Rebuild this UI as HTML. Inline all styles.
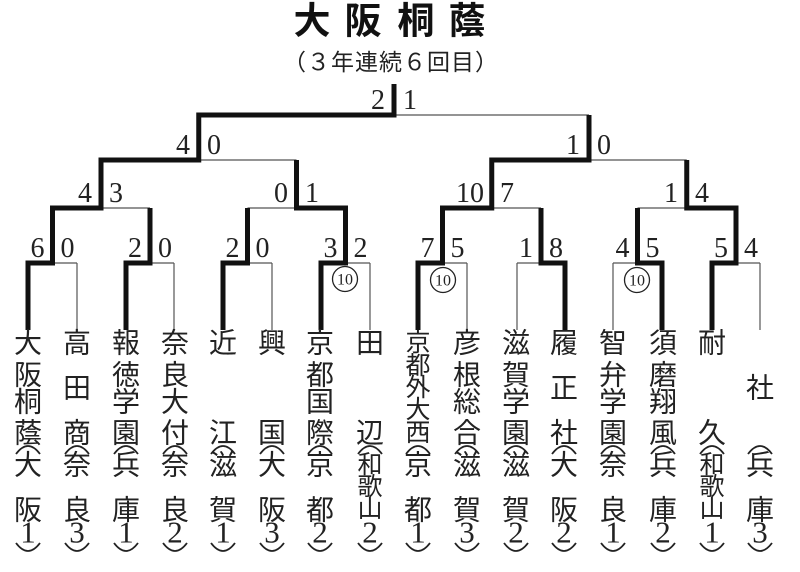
<!DOCTYPE html>
<html><head><meta charset="utf-8"><style>
html,body{margin:0;padding:0;background:#fff;}
svg{display:block;}
.k{font-family:"Liberation Sans","Noto Sans CJK JP",sans-serif;font-size:28px;fill:#222;text-anchor:middle;dominant-baseline:central;}
.k5{font-size:25px;}
.d{font-family:"Liberation Serif",serif;font-size:31px;fill:#222;text-anchor:middle;dominant-baseline:central;}
.s{font-family:"Liberation Serif",serif;font-size:28px;fill:#222;}
.l{text-anchor:end;}
.thin{stroke:#555;stroke-width:1.2;fill:none;}
.thick{stroke:#111;stroke-width:5;fill:none;stroke-linejoin:miter;}
.p{stroke:#222;stroke-width:1.8;fill:none;}
</style></head><body>
<svg width="800" height="572" viewBox="0 0 800 572" xmlns="http://www.w3.org/2000/svg">
<g font-family="'Liberation Sans','Noto Sans CJK JP',sans-serif" font-weight="bold" font-size="37" text-anchor="middle" dominant-baseline="central" fill="#111">
<text x="312" y="21">大</text><text x="363" y="21">阪</text><text x="416" y="21">桐</text><text x="467" y="21">蔭</text>
</g>
<text x="283" y="62" textLength="215" lengthAdjust="spacing" font-family="'Liberation Sans','Noto Sans CJK JP',sans-serif" font-size="23" dominant-baseline="central" fill="#222">（３年連続６回目）</text>

<g class="thin">
<path d="M28 263H77M126 263H174M223 263H272M321 263H370M418 263H467M517 263H565M613 263H662M712 263H760"/>
<path d="M77 263V330M174 263V330M272 263V330M370 263V330M467 263V330M517 263V330M613 263V330M760 263V330"/>
<path d="M52.5 208H150M247.5 208H345.5M442.5 208H541M637.5 208H736"/>
<path d="M101 160H296.5M491.75 160H686.75"/>
<path d="M198.75 115H589"/>
</g>
<g class="thick">
<polyline points="28,330 28,263 52.5,263 52.5,208 101,208 101,160 198.75,160 198.75,115 394,115 394,84"/>
<polyline points="126,330 126,263 150,263 150,208"/>
<polyline points="223,330 223,263 247.5,263 247.5,208"/>
<polyline points="321,330 321,263 345.5,263 345.5,208 296.5,208 296.5,160"/>
<polyline points="418,330 418,263 442.5,263 442.5,208 491.75,208 491.75,160 589,160 589,115"/>
<polyline points="565,330 565,263 541,263 541,208"/>
<polyline points="662,330 662,263 637.5,263 637.5,208"/>
<polyline points="712,330 712,263 736,263 736,208 686.75,208 686.75,160"/>
</g>

<g class="s">
<text class="l" x="44.5" y="257">6</text><text x="60.5" y="257">0</text>
<text class="l" x="142" y="257">2</text><text x="158" y="257">0</text>
<text class="l" x="239.5" y="257">2</text><text x="255.5" y="257">0</text>
<text class="l" x="337.5" y="257">3</text><text x="353.5" y="257">2</text>
<text class="l" x="434.5" y="257">7</text><text x="450.5" y="257">5</text>
<text class="l" x="533" y="257">1</text><text x="549" y="257">8</text>
<text class="l" x="629.5" y="257">4</text><text x="645.5" y="257">5</text>
<text class="l" x="728" y="257">5</text><text x="744" y="257">4</text>

<text class="l" x="92" y="202">4</text><text x="109" y="202">3</text>
<text class="l" x="288" y="202">0</text><text x="305" y="202">1</text>
<text class="l" x="484" y="202">10</text><text x="500" y="202">7</text>
<text class="l" x="678" y="202">1</text><text x="695" y="202">4</text>

<text class="l" x="190" y="154">4</text><text x="207" y="154">0</text>
<text class="l" x="580" y="154">1</text><text x="597" y="154">0</text>

<text class="l" x="385" y="109">2</text><text x="403" y="109">1</text>
</g>

<g font-family="'Liberation Serif',serif" font-size="16" text-anchor="middle" dominant-baseline="central" fill="#222">
<circle cx="345" cy="279" r="12.5" fill="#fff" stroke="#222" stroke-width="1.3"/><text x="345" y="280" textLength="16" lengthAdjust="spacingAndGlyphs">10</text>
<circle cx="443" cy="280" r="12.5" fill="#fff" stroke="#222" stroke-width="1.3"/><text x="443" y="281" textLength="16" lengthAdjust="spacingAndGlyphs">10</text>
<circle cx="637" cy="280" r="12.5" fill="#fff" stroke="#222" stroke-width="1.3"/><text x="637" y="281" textLength="16" lengthAdjust="spacingAndGlyphs">10</text>
</g>

<g class="k">
<text x="28" y="343">大</text><text x="28" y="375">阪</text><text x="28" y="402">桐</text><text x="28" y="433">蔭</text>
<text x="77" y="343">高</text><text x="77" y="388">田</text><text x="77" y="433">商</text>
<text x="126" y="343">報</text><text x="126" y="375">徳</text><text x="126" y="402">学</text><text x="126" y="433">園</text>
<text x="175" y="343">奈</text><text x="175" y="375">良</text><text x="175" y="402">大</text><text x="175" y="433">付</text>
<text x="223" y="343">近</text><text x="223" y="433">江</text>
<text x="272" y="343">興</text><text x="272" y="433">国</text>
<text x="320" y="343">京</text><text x="320" y="375">都</text><text x="320" y="402">国</text><text x="320" y="433">際</text>
<text x="370" y="343">田</text><text x="370" y="433">辺</text>
<text class="k5" x="418" y="343">京</text><text class="k5" x="418" y="366">都</text><text class="k5" x="418" y="388">外</text><text class="k5" x="418" y="410">大</text><text class="k5" x="418" y="433">西</text>
<text x="467" y="343">彦</text><text x="467" y="375">根</text><text x="467" y="402">総</text><text x="467" y="433">合</text>
<text x="516" y="343">滋</text><text x="516" y="375">賀</text><text x="516" y="402">学</text><text x="516" y="433">園</text>
<text x="564" y="343">履</text><text x="564" y="388">正</text><text x="564" y="433">社</text>
<text x="613" y="343">智</text><text x="613" y="375">弁</text><text x="613" y="402">学</text><text x="613" y="433">園</text>
<text x="663" y="343">須</text><text x="663" y="375">磨</text><text x="663" y="402">翔</text><text x="663" y="433">風</text>
<text x="712" y="343">耐</text><text x="712" y="433">久</text>
<text x="760" y="388">社</text>

<text x="28" y="465">大</text><text x="28" y="510">阪</text>
<text x="77" y="465">奈</text><text x="77" y="510">良</text>
<text x="126" y="465">兵</text><text x="126" y="510">庫</text>
<text x="175" y="465">奈</text><text x="175" y="510">良</text>
<text x="223" y="465">滋</text><text x="223" y="510">賀</text>
<text x="272" y="465">大</text><text x="272" y="510">阪</text>
<text x="320" y="465">京</text><text x="320" y="510">都</text>
<text class="k5" x="370" y="465">和</text><text class="k5" x="370" y="487">歌</text><text class="k5" x="370" y="509">山</text>
<text x="418" y="465">京</text><text x="418" y="510">都</text>
<text x="467" y="465">滋</text><text x="467" y="510">賀</text>
<text x="516" y="465">滋</text><text x="516" y="510">賀</text>
<text x="564" y="465">大</text><text x="564" y="510">阪</text>
<text x="613" y="465">奈</text><text x="613" y="510">良</text>
<text x="663" y="465">兵</text><text x="663" y="510">庫</text>
<text class="k5" x="712" y="465">和</text><text class="k5" x="712" y="487">歌</text><text class="k5" x="712" y="509">山</text>
<text x="760" y="465">兵</text><text x="760" y="510">庫</text>
</g>
<g class="d">
<text x="28" y="532">1</text><text x="77" y="532">3</text><text x="126" y="532">1</text><text x="175" y="532">2</text>
<text x="223" y="532">1</text><text x="272" y="532">3</text><text x="320" y="532">2</text><text x="370" y="532">2</text>
<text x="418" y="532">1</text><text x="467" y="532">3</text><text x="516" y="532">2</text><text x="564" y="532">2</text>
<text x="613" y="532">1</text><text x="663" y="532">2</text><text x="712" y="532">1</text><text x="760" y="532">3</text>
</g>
<g class="p">
<path d="M16 454Q28 438 40 454M65 454Q77 438 89 454M114 454Q126 438 138 454M163 454Q175 438 187 454M211 454Q223 438 235 454M260 454Q272 438 284 454M308 454Q320 438 332 454M358 454Q370 438 382 454M406 454Q418 438 430 454M455 454Q467 438 479 454M504 454Q516 438 528 454M552 454Q564 438 576 454M601 454Q613 438 625 454M651 454Q663 438 675 454M700 454Q712 438 724 454M748 454Q760 438 772 454"/>
<path d="M16 543Q28 559 40 543M65 543Q77 559 89 543M114 543Q126 559 138 543M163 543Q175 559 187 543M211 543Q223 559 235 543M260 543Q272 559 284 543M308 543Q320 559 332 543M358 543Q370 559 382 543M406 543Q418 559 430 543M455 543Q467 559 479 543M504 543Q516 559 528 543M552 543Q564 559 576 543M601 543Q613 559 625 543M651 543Q663 559 675 543M700 543Q712 559 724 543M748 543Q760 559 772 543"/>
</g>
</svg>
</body></html>
